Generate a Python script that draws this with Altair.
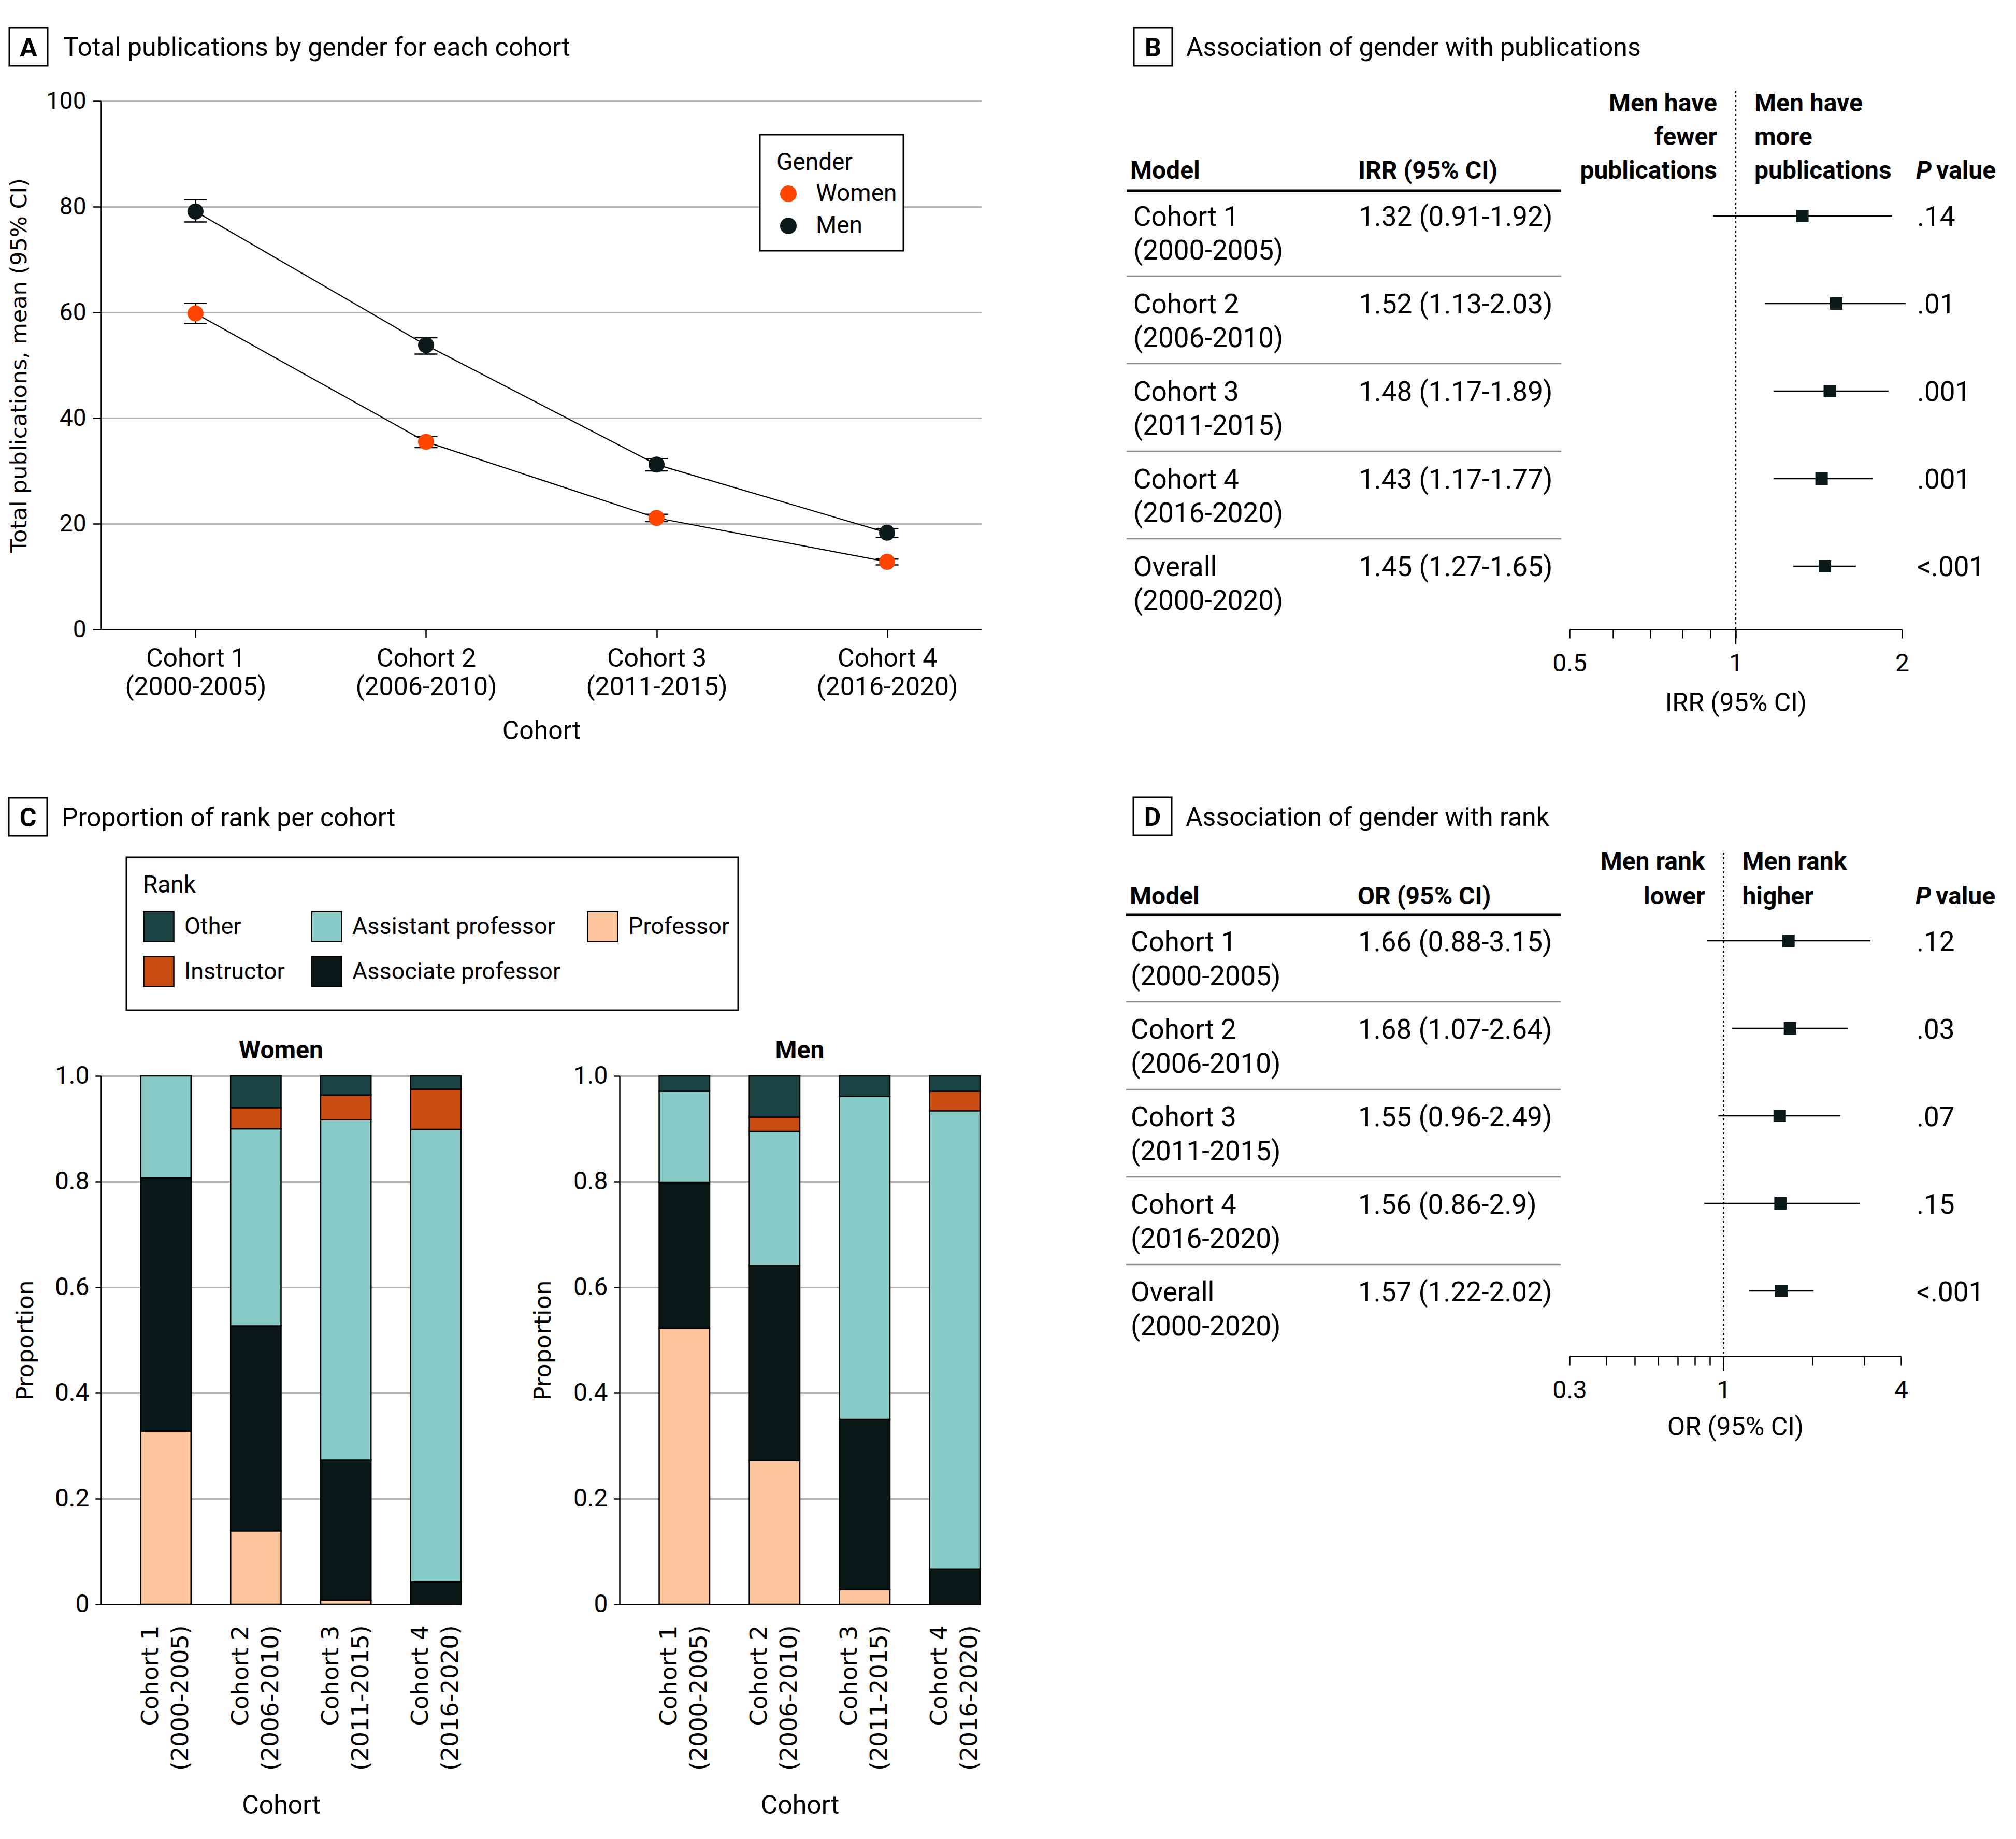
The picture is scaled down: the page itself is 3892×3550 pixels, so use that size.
import altair as alt
import pandas as pd

FONT = "Roboto"
WIDE = "DejaVu Sans"
DARK = "#0A1A1A"
GRID = "#B3B3B3"
SEP = "#8C8C8C"

# ---------------- data ----------------
cohorts = ["Cohort 1 (2000-2005)", "Cohort 2 (2006-2010)", "Cohort 3 (2011-2015)", "Cohort 4 (2016-2020)"]
genders = ["Women", "Men"]
gender_colors = ["#FF4500", "#0A1A1A"]

women_mean = [59.8, 35.5, 21.1, 12.8]
women_lo = [57.9, 34.4, 20.4, 12.2]
women_hi = [61.7, 36.5, 21.8, 13.3]
men_mean = [79.1, 53.8, 31.2, 18.3]
men_lo = [77.1, 52.1, 30.0, 17.4]
men_hi = [81.3, 55.2, 32.3, 19.1]

models = ["Cohort 1", "Cohort 2", "Cohort 3", "Cohort 4", "Overall"]
model_years = ["(2000-2005)", "(2006-2010)", "(2011-2015)", "(2016-2020)", "(2000-2020)"]

irr_est = [1.32, 1.52, 1.48, 1.43, 1.45]
irr_lo = [0.91, 1.13, 1.17, 1.17, 1.27]
irr_hi = [1.92, 2.03, 1.89, 1.77, 1.65]
irr_text = ["1.32 (0.91-1.92)", "1.52 (1.13-2.03)", "1.48 (1.17-1.89)", "1.43 (1.17-1.77)", "1.45 (1.27-1.65)"]
irr_p = [".14", ".01", ".001", ".001", "<.001"]

or_est = [1.66, 1.68, 1.55, 1.56, 1.57]
or_lo = [0.88, 1.07, 0.96, 0.86, 1.22]
or_hi = [3.15, 2.64, 2.49, 2.9, 2.02]
or_text = ["1.66 (0.88-3.15)", "1.68 (1.07-2.64)", "1.55 (0.96-2.49)", "1.56 (0.86-2.9)", "1.57 (1.22-2.02)"]
or_p = [".12", ".03", ".07", ".15", "<.001"]

ranks_stack = ["Professor", "Associate professor", "Assistant professor", "Instructor", "Other"]
rank_legend = ["Other", "Assistant professor", "Professor", "Instructor", "Associate professor"]
rank_colors = ["#1B4545", "#89CBC9", "#FDC59B", "#C94C10", "#0A1818"]

women_professor = [0.328, 0.139, 0.008, 0.0]
women_associate = [0.479, 0.388, 0.265, 0.043]
women_assistant = [0.193, 0.373, 0.644, 0.856]
women_instructor = [0.0, 0.040, 0.047, 0.076]
women_other = [0.0, 0.060, 0.036, 0.025]

men_professor = [0.522, 0.272, 0.028, 0.0]
men_associate = [0.277, 0.369, 0.322, 0.067]
men_assistant = [0.172, 0.254, 0.611, 0.867]
men_instructor = [0.0, 0.027, 0.0, 0.037]
men_other = [0.029, 0.078, 0.039, 0.029]

one = pd.DataFrame({"k": [0]})


def heading(letter, title, bx, by, tx, ty):
    box = alt.Chart(one).mark_rect(fill="white", stroke="black", strokeWidth=3).encode(
        x=alt.value(bx), x2=alt.value(bx + 74), y=alt.value(by), y2=alt.value(by + 73))
    let = alt.Chart(one).mark_text(font=FONT, fontSize=50, fontWeight="bold", align="center",
                                   baseline="alphabetic", color="black").encode(
        x=alt.value(bx + 37), y=alt.value(by + 55), text=alt.value(letter))
    tit = alt.Chart(one).mark_text(font=FONT, fontSize=50, align="left", baseline="alphabetic",
                                   color="black").encode(
        x=alt.value(tx), y=alt.value(ty), text=alt.value(title))
    return [box, let, tit]


# ---------------- Panel A ----------------
WA, HA = 1700, 1020
dfA = pd.DataFrame({
    "cohort": cohorts * 2,
    "gender": ["Women"] * 4 + ["Men"] * 4,
    "mean": women_mean + men_mean,
    "lo": women_lo + men_lo,
    "hi": women_hi + men_hi,
})
xA = alt.X("cohort:N", sort=cohorts, scale=alt.Scale(type="point", padding=0.41),
           axis=alt.Axis(title="Cohort", labelAngle=0, labelLimit=2000,
                         labelExpr="[slice(datum.label, 0, 8), slice(datum.label, 9)]",
                         labelFont=FONT, labelFontSize=50, labelLineHeight=55, labelPadding=15,
                         labelColor="black", tickSize=16, tickWidth=2.5, tickColor="black",
                         domainColor="black", domainWidth=2.5, grid=False,
                         titleFont=FONT, titleFontSize=50, titleFontWeight="normal", titleColor="black",
                         titleX=850, titleY=211, titleBaseline="alphabetic", titleAlign="center"))
axA = alt.Axis(values=[0, 20, 40, 60, 80, 100], title="Total publications, mean (95% CI)",
               titleFont=WIDE, titleFontSize=43, titleFontWeight="normal", titleColor="black",
               titleAngle=270, titleX=-145, titleY=510, titleAlign="center", titleBaseline="alphabetic",
               labelFont=FONT, labelFontSize=46, labelPadding=13, labelColor="black", labelLimit=2000,
               tickSize=16, tickWidth=2.5, tickColor="black", domainColor="black", domainWidth=2.5,
               grid=True, gridColor=GRID, gridWidth=3)
scA = alt.Scale(domain=[0, 100], nice=False)


def yA(f):
    return alt.Y(f, scale=scA, axis=axA)


linesA = alt.Chart(dfA).mark_line(color="black", strokeWidth=2.2).encode(x=xA, y=yA("mean:Q"), detail="gender:N")
rulesA = alt.Chart(dfA).mark_rule(color="black", strokeWidth=2.5).encode(x=xA, y=yA("lo:Q"), y2="hi:Q")
capLo = alt.Chart(dfA).mark_tick(color="black", thickness=2.5, size=44, opacity=1, orient="horizontal").encode(x=xA, y=yA("lo:Q"))
capHi = alt.Chart(dfA).mark_tick(color="black", thickness=2.5, size=44, opacity=1, orient="horizontal").encode(x=xA, y=yA("hi:Q"))
frameA = alt.Chart(one).mark_rect(fill="white", stroke="black", strokeWidth=3).encode(
    x=alt.value(1272), x2=alt.value(1549), y=alt.value(65), y2=alt.value(289))
pointsA = alt.Chart(dfA).mark_circle(size=960, opacity=1).encode(
    x=xA, y=yA("mean:Q"),
    color=alt.Color("gender:N", scale=alt.Scale(domain=genders, range=gender_colors),
                    legend=alt.Legend(orient="none", legendX=1272, legendY=65, padding=32,
                                      title="Gender", titleFont=FONT, titleFontSize=46,
                                      titleFontWeight="normal", titleColor="black", titlePadding=13,
                                      labelFont=FONT, labelFontSize=46, labelColor="black", labelOffset=30,
                                      labelLimit=2000,
                                      symbolType="circle", symbolSize=1018, symbolOpacity=1,
                                      symbolStrokeWidth=0, rowPadding=16)))
chartA = alt.layer(linesA, rulesA, capLo, capHi, frameA, pointsA,
                   *heading("A", "Total publications by gender for each cohort", -177, -141, -73, -87)
                   ).properties(width=WA, height=HA)


# ---------------- Forest panels B / D ----------------
def forest(est, lo, hi, ci_txt, pvals, p):
    df = pd.DataFrame({
        "model": models,
        "label": [m + "\n" + y for m, y in zip(models, model_years)],
        "est": est, "lo": lo, "hi": hi, "ci": ci_txt, "p": pvals,
    })
    W, H = p["W"], p["H"]
    xscale = alt.Scale(type="log", domain=p["domain"], range=p["rng"], nice=False)
    shown = ", ".join(str(v) for v in p["shown"])
    xaxis = alt.Axis(values=p["ticks"],
                     labelExpr="indexof([%s], datum.value) >= 0 ? format(datum.value, '~g') : ''" % shown,
                     labelFont=FONT, labelFontSize=48, labelColor="black", labelPadding=25,
                     labelFlush=False, labelOverlap=False, labelLimit=2000,
                     tickSize=17, tickWidth=2.5, tickColor="black", domainColor="black", domainWidth=2.5,
                     grid=False, title=p["axis_title"], titleFont=FONT, titleFontSize=50,
                     titleFontWeight="normal", titleColor="black", titleX=p["title_x"], titleY=p["title_y"],
                     titleAlign="center", titleBaseline="alphabetic")

    def X(f):
        return alt.X(f, scale=xscale, axis=xaxis)

    Y = alt.Y("model:N", sort=models, scale=alt.Scale(type="point", range=p["rows"], padding=0), axis=None)
    ref = pd.DataFrame({"ref": [1.0]})
    txt = dict(font=FONT, fontSize=53, baseline="alphabetic", color="black", lineBreak="\n",
               lineHeight=p["row_lh"], dy=p["row_dy"])
    hdr = dict(font=FONT, fontSize=48, fontWeight="bold", baseline="alphabetic", color="black")

    layers = [
        alt.Chart(df).transform_filter("datum.model != 'Overall'").mark_rule(
            color=SEP, strokeWidth=2.5, yOffset=p["sep_off"]).encode(
            y=Y, x=alt.value(p["xl"]), x2=alt.value(p["xr"])),
        alt.Chart(one).mark_rule(color="black", strokeWidth=5).encode(
            x=alt.value(p["xl"]), x2=alt.value(p["xr"]), y=alt.value(p["line_y"])),
        alt.Chart(ref).mark_rule(color="black", strokeWidth=2.5, strokeDash=[4, 5]).encode(
            x=X("ref:Q"), y=alt.value(p["dot_top"]), y2=alt.value(H)),
        alt.Chart(ref).mark_rule(color="black", strokeWidth=2.5).encode(
            x=X("ref:Q"), y=alt.value(H), y2=alt.value(H + 29)),
        alt.Chart(df).mark_rule(color="black", strokeWidth=2.5).encode(x=X("lo:Q"), x2="hi:Q", y=Y),
        alt.Chart(df).mark_square(size=576, color=DARK, opacity=1).encode(x=X("est:Q"), y=Y),
        alt.Chart(df).mark_text(align="left", **txt).encode(x=alt.value(p["model_x"]), y=Y, text="label:N"),
        alt.Chart(df).mark_text(align="left", **txt).encode(x=alt.value(p["ci_x"]), y=Y, text="ci:N"),
        alt.Chart(df).mark_text(align="left", **txt).encode(x=alt.value(p["p_x"]), y=Y, text="p:N"),
        alt.Chart(one).mark_text(align="left", **hdr).encode(
            x=alt.value(p["hdr_model_x"]), y=alt.value(p["model_y"]), text=alt.value("Model")),
        alt.Chart(one).mark_text(align="left", **hdr).encode(
            x=alt.value(p["ci_x"] - 1), y=alt.value(p["model_y"]), text=alt.value(p["col_hdr"])),
        alt.Chart(ref).mark_text(align="right", dx=-36, lineBreak="\n", lineHeight=p["hdr_lh"], **hdr).encode(
            x=X("ref:Q"), y=alt.value(p["hdr_y"]), text=alt.value(p["left_hdr"])),
        alt.Chart(ref).mark_text(align="left", dx=36, lineBreak="\n", lineHeight=p["hdr_lh"], **hdr).encode(
            x=X("ref:Q"), y=alt.value(p["hdr_y"]), text=alt.value(p["right_hdr"])),
        alt.Chart(one).mark_text(align="left", fontStyle="italic", **hdr).encode(
            x=alt.value(p["p_x"] - 2), y=alt.value(p["model_y"]), text=alt.value("P")),
        alt.Chart(one).mark_text(align="left", **hdr).encode(
            x=alt.value(p["p_x"] + 37), y=alt.value(p["model_y"]), text=alt.value("value")),
    ]
    layers += heading(p["letter"], p["title"], p["bx"], p["by"], p["tx"], p["ty"])
    return alt.layer(*layers).properties(width=W, height=H)


chartB = forest(irr_est, irr_lo, irr_hi, irr_text, irr_p, dict(
    W=1471, H=1020, domain=[0.5, 2], rng=[829, 1471], ticks=[0.5, 0.6, 0.7, 0.8, 0.9, 1, 2], shown=[0.5, 1, 2],
    axis_title="IRR (95% CI)", title_x=1150, title_y=157, rows=[222, 898], row_lh=65, row_dy=19,
    sep_off=116, xl=-26, xr=813, line_y=173, dot_top=-20, model_x=-13, hdr_model_x=-19, ci_x=422, p_x=1500,
    model_y=150, hdr_y=20, hdr_lh=65, col_hdr="IRR (95% CI)",
    left_hdr="Men have\nfewer\npublications", right_hdr="Men have\nmore\npublications",
    letter="B", title="Association of gender with publications", bx=-12, by=-141, tx=89, ty=-87))

chartD = forest(or_est, or_lo, or_hi, or_text, or_p, dict(
    W=1472, H=541, domain=[0.3, 4], rng=[832, 1472],
    ticks=[0.3, 0.4, 0.5, 0.6, 0.7, 0.8, 0.9, 1, 2, 3, 4], shown=[0.3, 1, 4],
    axis_title="OR (95% CI)", title_x=1152, title_y=152, rows=[-261, 415], row_lh=66, row_dy=20,
    sep_off=118, xl=-24, xr=815, line_y=-311, dot_top=-431, model_x=-15, hdr_model_x=-17, ci_x=424, p_x=1502,
    model_y=-331, hdr_y=-398, hdr_lh=67, col_hdr="OR (95% CI)",
    left_hdr="Men rank\nlower", right_hdr="Men rank\nhigher",
    letter="D", title="Association of gender with rank", bx=-10, by=-538, tx=91, ty=-483))


# ---------------- Panel C ----------------
def rank_df(prof, assoc, asst, instr, other):
    rows = []
    for i, c in enumerate(cohorts):
        for r, vals in zip(ranks_stack, [prof, assoc, asst, instr, other]):
            rows.append({"cohort": c, "rank": r, "value": vals[i], "ord": ranks_stack.index(r)})
    return pd.DataFrame(rows)


def rank_chart(df, name, W, title_x, legend, extra):
    xaxis = alt.Axis(title="Cohort", labelAngle=270, labelAlign="right", labelBaseline="middle",
                     labelExpr="[slice(datum.label, 0, 8), slice(datum.label, 9)]", labelLimit=2000,
                     labelFont=WIDE, labelFontSize=45, labelLineHeight=58, labelPadding=40, labelOffset=-29,
                     labelColor="black",
                     ticks=False, domainColor="black", domainWidth=2.5, grid=False,
                     titleFont=FONT, titleFontSize=50, titleFontWeight="normal", titleColor="black",
                     titleX=W / 2, titleY=403, titleBaseline="alphabetic", titleAlign="center")
    yaxis = alt.Axis(values=[0, 0.2, 0.4, 0.6, 0.8, 1.0],
                     labelExpr="datum.value == 0 ? '0' : format(datum.value, '.1f')",
                     labelFont=FONT, labelFontSize=48, labelPadding=12, labelColor="black", labelLimit=2000,
                     tickSize=11, tickWidth=2.5, tickColor="black", domainColor="black", domainWidth=2.5,
                     grid=True, gridColor=GRID, gridWidth=3,
                     title="Proportion", titleFont=WIDE, titleFontSize=45, titleFontWeight="normal",
                     titleColor="black", titleAngle=270, titleX=title_x, titleY=510,
                     titleAlign="center", titleBaseline="alphabetic")
    bars = alt.Chart(df).transform_filter("datum.value > 0").mark_bar(
        stroke="black", strokeWidth=2.5, opacity=1).encode(
        x=alt.X("cohort:N", sort=cohorts,
                scale=alt.Scale(paddingInner=0.44, paddingOuter=0.22, align=1), axis=xaxis),
        y=alt.Y("value:Q", stack="zero", scale=alt.Scale(domain=[0, 1], nice=False), axis=yaxis),
        color=alt.Color("rank:N", scale=alt.Scale(domain=rank_legend, range=rank_colors), legend=legend),
        order=alt.Order("ord:Q", sort="ascending"))
    lab = alt.Chart(one).mark_text(font=FONT, fontSize=48, fontWeight="bold", align="center",
                                   baseline="alphabetic", color="black").encode(
        x=alt.value(W / 2), y=alt.value(-34), text=alt.value(name))
    return alt.layer(*extra, bars, lab).properties(width=W, height=1020)


rank_leg = alt.Legend(orient="none", legendX=49, legendY=-422, direction="horizontal", columns=3, padding=32,
                      title="Rank", titleFont=FONT, titleFontSize=46, titleFontWeight="normal",
                      titleColor="black", titlePadding=25, labelFont=FONT, labelFontSize=45,
                      labelColor="black", labelOffset=19, labelLimit=2000, symbolType="square", symbolSize=3364,
                      symbolStrokeColor="black", symbolStrokeWidth=2.5, symbolOpacity=1,
                      rowPadding=18, columnPadding=46)
frameC = alt.Chart(one).mark_rect(fill="white", stroke="black", strokeWidth=3).encode(
    x=alt.value(49), x2=alt.value(1230), y=alt.value(-422), y2=alt.value(-127))

chartCw = rank_chart(rank_df(women_professor, women_associate, women_assistant, women_instructor, women_other),
                     "Women", 695, -132, rank_leg,
                     [frameC] + heading("C", "Proportion of rank per cohort", -178, -537, -76, -482))
chartCm = rank_chart(rank_df(men_professor, men_associate, men_assistant, men_instructor, men_other),
                     "Men", 696, -134, None, [])

# ---------------- layout ----------------
row1 = alt.hconcat(chartA, chartB, spacing=306, bounds="flush").resolve_scale(color="independent")
row2 = alt.hconcat(chartCw, chartCm, chartD, spacing=306, bounds="flush").resolve_scale(color="independent")
chart = alt.vconcat(row1, row2, spacing=101).resolve_scale(color="independent").properties(
    padding={"left": 15, "top": 52, "right": 10, "bottom": 10}
).configure_view(stroke=None)

chart.save("out.html", embed_options={"renderer": "svg", "actions": False})
